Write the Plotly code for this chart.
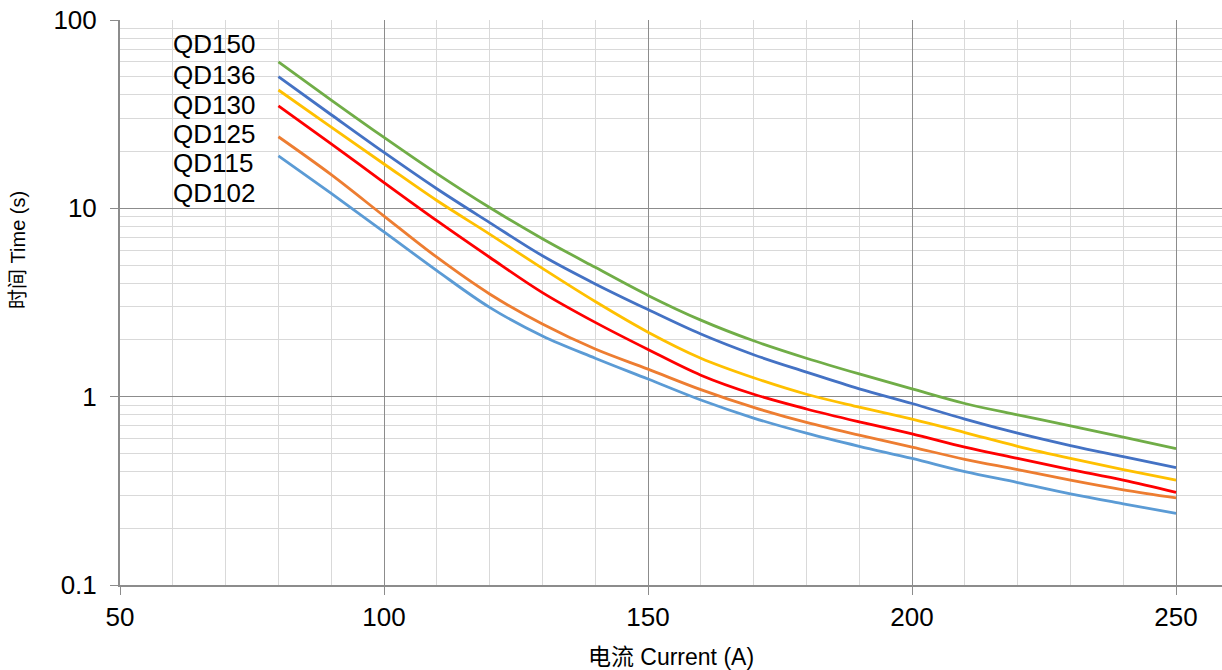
import plotly.graph_objects as go

current = [80, 90, 100, 110, 120, 130, 140, 150, 160, 170, 180, 190, 200, 210, 220, 230, 240, 250]

qd150 = [60, 37.6, 23.8, 15.3, 10.1, 6.9, 4.86, 3.45, 2.55, 1.98, 1.60, 1.32, 1.10, 0.92, 0.80, 0.70, 0.61, 0.53]
qd136 = [50, 31.4, 19.8, 12.7, 8.4, 5.6, 3.97, 2.9, 2.15, 1.67, 1.35, 1.10, 0.92, 0.76, 0.64, 0.55, 0.48, 0.42]
qd130 = [42.5, 27.0, 17.2, 11.0, 7.3, 4.8, 3.2, 2.2, 1.60, 1.26, 1.03, 0.88, 0.76, 0.645, 0.545, 0.47, 0.41, 0.36]
qd125 = [35, 22.0, 13.7, 8.6, 5.5, 3.57, 2.48, 1.78, 1.30, 1.03, 0.86, 0.735, 0.635, 0.54, 0.47, 0.41, 0.36, 0.31]
qd115 = [24, 15.1, 9.1, 5.5, 3.51, 2.43, 1.79, 1.40, 1.09, 0.877, 0.73, 0.625, 0.54, 0.465, 0.41, 0.36, 0.32, 0.29]
qd102 = [19, 12.0, 7.5, 4.67, 2.98, 2.1, 1.6, 1.24, 0.96, 0.77, 0.64, 0.545, 0.47, 0.40, 0.35, 0.305, 0.27, 0.24]

series_names = ["QD150", "QD136", "QD130", "QD125", "QD115", "QD102"]
series_values = [qd150, qd136, qd130, qd125, qd115, qd102]
series_colors = ["#70AD47", "#4472C4", "#FFC000", "#FF0000", "#ED7D31", "#5B9BD5"]

x_ticks = [50, 100, 150, 200, 250]
y_tickvals = [0.1, 1, 10, 100]
y_ticktext = ["0.1", "1", "10", "100"]
y_minor = [m * d for d in [0.1, 1, 10] for m in range(2, 10)]
x_minor = list(range(50, 260, 10))

fig = go.Figure()
for name, vals, col in zip(series_names, series_values, series_colors):
    fig.add_trace(go.Scatter(x=current, y=vals, mode="lines", name=name,
                             line=dict(color=col, width=2.8, shape="spline", smoothing=1.0)))

font = "Liberation Sans, Arial, Noto Sans CJK SC, sans-serif"

label_y_px = [44, 75, 105, 134, 163, 193]
plot_top, plot_bot = 20, 585
for name, py in zip(series_names, label_y_px):
    fig.add_annotation(x=59.6, y=(plot_bot - py) / (plot_bot - plot_top), xref="x", yref="paper",
                       text=name, showarrow=False, xanchor="left", yanchor="middle",
                       font=dict(size=26, color="#000000", family=font))

fig.add_annotation(x=0, xref="paper", xshift=-102,
                   y=(plot_bot - 250) / (plot_bot - plot_top), yref="paper",
                   text="时间 Time (s)", showarrow=False, textangle=-90,
                   xanchor="center", yanchor="middle",
                   font=dict(size=20, color="#000000", family=font))

fig.update_layout(
    width=1222, height=670,
    margin=dict(l=120, r=0, t=20, b=85),
    paper_bgcolor="white", plot_bgcolor="white",
    showlegend=False,
    font=dict(family=font, color="#000000"),
    xaxis=dict(
        range=[50, 258.7], tickvals=x_ticks, ticks="outside", ticklen=8, tickcolor="#8c8c8c",
        tickfont=dict(size=26, color="#000000"), ticklabelstandoff=0,
        showgrid=True, gridcolor="#8c8c8c", gridwidth=1,
        showline=True, linecolor="#8c8c8c", linewidth=2,
        minor=dict(tickvals=x_minor, showgrid=True, gridcolor="#d9d9d9", gridwidth=1, ticks=""),
        title=dict(text="电流 Current (A)", font=dict(size=23, color="#000000"), standoff=20),
        zeroline=False,
    ),
    yaxis=dict(
        type="log", range=[-1, 2], tickvals=y_tickvals, ticktext=y_ticktext,
        ticks="outside", ticklen=8, tickcolor="#8c8c8c",
        tickfont=dict(size=26, color="#000000"), ticklabelstandoff=8,
        showgrid=True, gridcolor="#8c8c8c", gridwidth=1,
        showline=True, linecolor="#8c8c8c", linewidth=2,
        minor=dict(tickvals=y_minor, showgrid=True, gridcolor="#d9d9d9", gridwidth=1, ticks=""),
        zeroline=False,
    ),
)

fig.write_html("out.html", config={"displayModeBar": False},
               post_script="document.body.style.margin='0';document.body.style.overflow='hidden';")
